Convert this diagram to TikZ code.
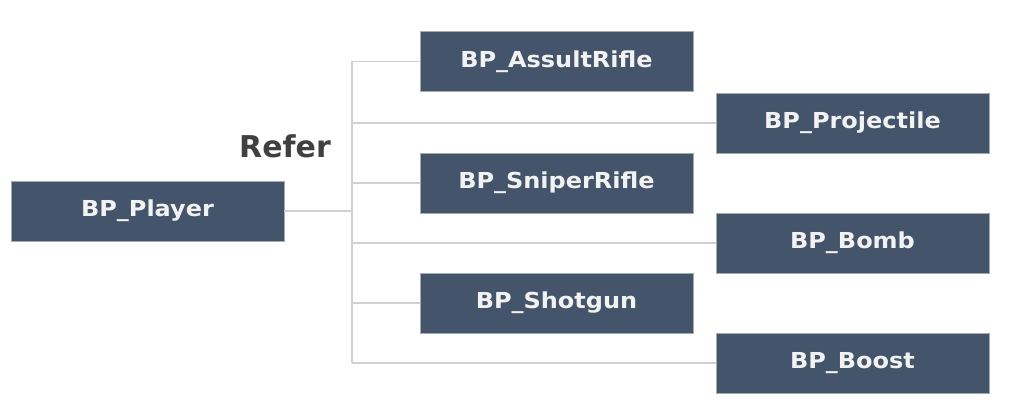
\documentclass[tikz,border=0pt]{standalone}
\usepackage{fontspec}
\newfontfamily\boxfont[FakeStretch=1.09]{DejaVu Sans}
\newfontfamily\referfont{DejaVu Sans}
\definecolor{boxblue}{HTML}{44546A}
\definecolor{boxtext}{HTML}{F2F2F2}
\definecolor{linegray}{HTML}{D0D0D0}
\definecolor{refergray}{HTML}{404040}
\begin{document}
\begin{tikzpicture}[x=1pt,y=-1pt,
  bpbox/.style={draw=linegray!70!boxblue,line width=0.6pt,fill=boxblue,text=boxtext,
    minimum width=273pt,minimum height=60pt,inner sep=0pt,
    font=\boxfont\bfseries\fontsize{22}{26}\selectfont},
  referstyle/.style={font=\referfont\bfseries\fontsize{30}{34}\selectfont},
  conn/.style={draw=linegray,line width=1.3pt}]
\useasboundingbox (0,0) rectangle (1024,419);
\node[bpbox] (player) at (147.5,211) {BP\_Player};
\node[bpbox] (assult) at (556.5,61.5) {BP\_AssultRifle};
\node[bpbox] (proj) at (852.5,123) {BP\_Projectile};
\node[bpbox] (sniper) at (556.5,183) {BP\_SniperRifle};
\node[bpbox] (bomb) at (852.5,243) {BP\_Bomb};
\node[bpbox] (shot) at (556.5,303) {BP\_Shotgun};
\node[bpbox] (boost) at (852.5,363) {BP\_Boost};
\node[referstyle,text=refergray] (refer) at (285,146) {Refer};
\coordinate (tp) at (352,211);
\coordinate (t1) at (352,61.5);
\coordinate (t2) at (352,123);
\coordinate (t3) at (352,183);
\coordinate (t4) at (352,243);
\coordinate (t5) at (352,303);
\coordinate (t6) at (352,363);
\draw[conn] (player.east) -- (tp);
\draw[conn] (t1) -- (t6);
\draw[conn] (t1) -- (assult.west);
\draw[conn] (t2) -- (proj.west);
\draw[conn] (t3) -- (sniper.west);
\draw[conn] (t4) -- (bomb.west);
\draw[conn] (t5) -- (shot.west);
\draw[conn] (t6) -- (boost.west);
\end{tikzpicture}
\end{document}
